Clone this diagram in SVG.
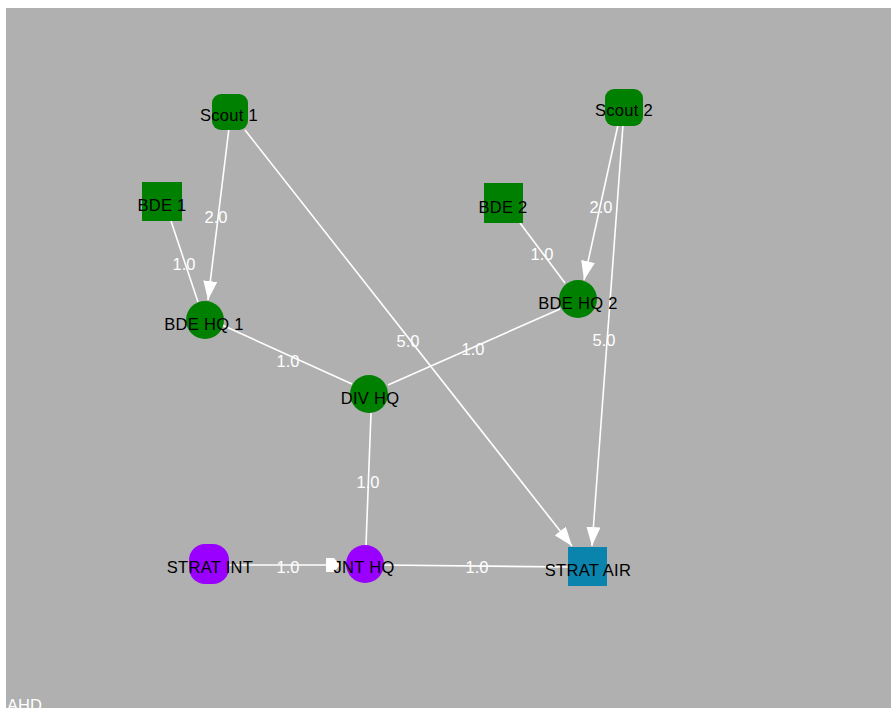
<svg xmlns="http://www.w3.org/2000/svg" width="891" height="708" viewBox="0 0 891 708">
  <style>
    .edge { stroke: #ffffff; stroke-width: 1.6; fill: none; }
    .arrow { marker-end: url(#head); }
    .elabel { fill: #ffffff; font-family: "Liberation Sans", Arial, sans-serif; font-size: 16.5px; text-anchor: middle; }
    .nlabel { fill: #000000; font-family: "Liberation Sans", Arial, sans-serif; font-size: 16.5px; text-anchor: middle; letter-spacing: 0.3px; }
    .unit { fill: #008000; }
    .joint { fill: #9a00ff; }
    .air { fill: #0a84ac; }
  </style>
  <defs>
    <marker id="head" markerUnits="userSpaceOnUse" markerWidth="20" markerHeight="14" refX="19" refY="7" orient="auto">
      <path d="M0,0 L19,7 L0,14 Z" fill="#ffffff"/>
    </marker>
  </defs>

  <!-- canvas -->
  <rect x="6" y="8" width="885" height="700" fill="#b0b0b0"/>

  <!-- connectors -->
  <g id="connectors">
    <line class="edge arrow" x1="229" y1="128" x2="208" y2="300"/>
    <line class="edge arrow" x1="245" y1="130" x2="572" y2="546"/>
    <line class="edge" x1="171" y1="221" x2="198" y2="302"/>
    <line class="edge" x1="222" y1="325" x2="352" y2="384"/>
    <line class="edge arrow" x1="618" y1="125" x2="584" y2="280"/>
    <line class="edge arrow" x1="623" y1="125" x2="592" y2="546"/>
    <line class="edge" x1="520" y1="223" x2="565" y2="283"/>
    <line class="edge" x1="560" y1="309" x2="388" y2="385"/>
    <line class="edge" x1="371" y1="413" x2="366" y2="545"/>
    <line class="edge" x1="229" y1="565" x2="330" y2="565"/>
    <polygon points="326,558 334,558 340,565 334,572 326,572" fill="#ffffff"/>
    <line class="edge" x1="383" y1="565" x2="570" y2="567"/>

    <text class="elabel" x="216" y="223">2.0</text>
    <text class="elabel" x="408" y="347">5.0</text>
    <text class="elabel" x="184" y="270">1.0</text>
    <text class="elabel" x="288" y="367">1.0</text>
    <text class="elabel" x="601" y="213">2.0</text>
    <text class="elabel" x="604" y="346">5.0</text>
    <text class="elabel" x="542" y="260">1.0</text>
    <text class="elabel" x="473" y="355">1.0</text>
    <text class="elabel" x="368" y="488">1.0</text>
    <text class="elabel" x="288" y="573">1.0</text>
    <text class="elabel" x="477" y="573">1.0</text>
  </g>

  <!-- nodes -->
  <g id="scout1">
    <rect class="unit" x="212" y="94" width="36" height="36" rx="9"/>
    <text class="nlabel" x="229" y="121">Scout 1</text>
  </g>
  <g id="scout2">
    <rect class="unit" x="605" y="89" width="38" height="37" rx="9"/>
    <text class="nlabel" x="624" y="116">Scout 2</text>
  </g>
  <g id="bde1">
    <rect class="unit" x="142" y="182" width="40" height="39"/>
    <text class="nlabel" x="162" y="211">BDE 1</text>
  </g>
  <g id="bde2">
    <rect class="unit" x="484" y="183" width="39" height="40"/>
    <text class="nlabel" x="503" y="213">BDE 2</text>
  </g>
  <g id="bdehq1">
    <circle class="unit" cx="205" cy="320" r="19"/>
    <text class="nlabel" x="204" y="330">BDE HQ 1</text>
  </g>
  <g id="bdehq2">
    <circle class="unit" cx="578" cy="299" r="19"/>
    <text class="nlabel" x="578" y="309">BDE HQ 2</text>
  </g>
  <g id="divhq">
    <circle class="unit" cx="369" cy="394" r="19"/>
    <text class="nlabel" x="370" y="404">DIV HQ</text>
  </g>
  <g id="stratint">
    <rect class="joint" x="189" y="544" width="40" height="40" rx="16"/>
    <text class="nlabel" x="210" y="573">STRAT INT</text>
  </g>
  <g id="jnthq">
    <circle class="joint" cx="365" cy="564" r="19"/>
    <text class="nlabel" x="364" y="573">JNT HQ</text>
  </g>
  <g id="stratair">
    <rect class="air" x="568" y="547" width="39" height="39"/>
    <text class="nlabel" x="588" y="576">STRAT AIR</text>
  </g>

  <text x="7" y="711" fill="#ffffff" font-family="Liberation Sans, Arial, sans-serif" font-size="16.5">AHD</text>
</svg>
